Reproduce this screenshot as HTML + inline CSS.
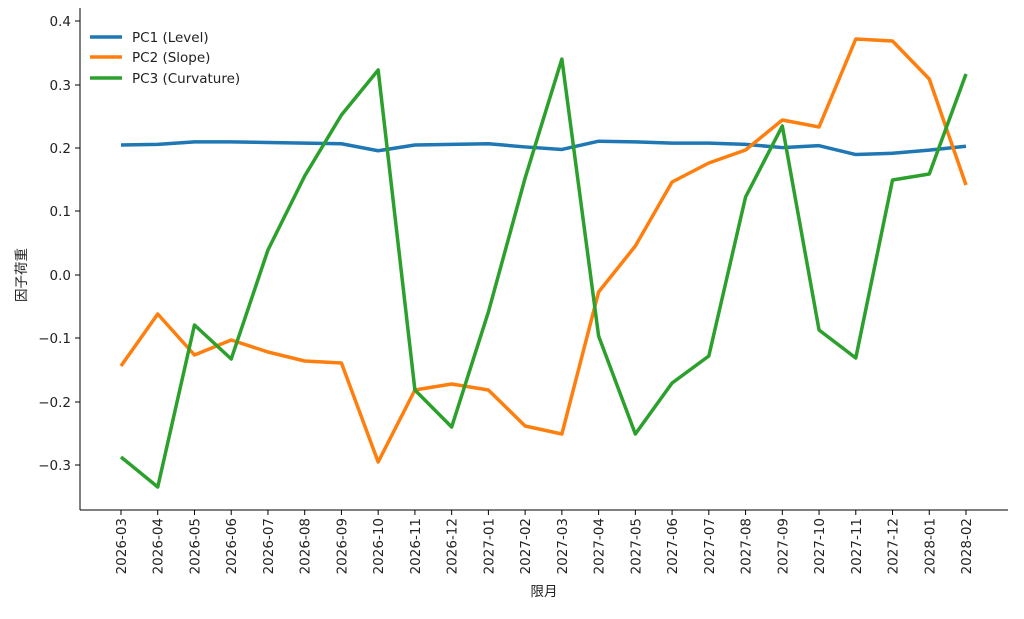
<!DOCTYPE html>
<html><head><meta charset="utf-8"><style>
body{margin:0;background:#fff;}
svg text{font-family:"DejaVu Sans","Liberation Sans","Noto Sans CJK JP",sans-serif;font-size:13.5px;fill:#222;}
</style></head><body>
<svg width="1024" height="614" xmlns="http://www.w3.org/2000/svg">
<g stroke="#000" stroke-width="1">
<line x1="80" y1="8" x2="80" y2="510"/>
<line x1="80" y1="510" x2="1008" y2="510"/>
</g>
<g id="yt" stroke="#000">
<line x1="75" x2="80" y1="21" y2="21"/><line x1="75" x2="80" y1="85" y2="85"/><line x1="75" x2="80" y1="148" y2="148"/><line x1="75" x2="80" y1="211" y2="211"/><line x1="75" x2="80" y1="275" y2="275"/><line x1="75" x2="80" y1="338" y2="338"/><line x1="75" x2="80" y1="402" y2="402"/><line x1="75" x2="80" y1="465" y2="465"/>
</g>
<g text-anchor="end">
<text x="71" y="26">0.4</text><text x="71" y="90">0.3</text><text x="71" y="153">0.2</text><text x="71" y="216">0.1</text><text x="71" y="280">0.0</text><text x="71" y="343">−0.1</text><text x="71" y="407">−0.2</text><text x="71" y="470">−0.3</text>
</g>
<g id="xt"></g>
<text x="26" y="275" text-anchor="middle" transform="rotate(-90 26 275)">因子荷重</text>
<text x="544" y="596" text-anchor="middle">限月</text>
<polyline id="p1" fill="none" stroke="#1f77b4" stroke-width="3.5" stroke-linejoin="round"/>
<polyline id="p2" fill="none" stroke="#ff7f0e" stroke-width="3.5" stroke-linejoin="round"/>
<polyline id="p3" fill="none" stroke="#2ca02c" stroke-width="3.5" stroke-linejoin="round"/>
<line x1="90" x2="122" y1="37" y2="37" stroke="#1f77b4" stroke-width="3.5"/>
<line x1="90" x2="122" y1="57" y2="57" stroke="#ff7f0e" stroke-width="3.5"/>
<line x1="90" x2="122" y1="78" y2="78" stroke="#2ca02c" stroke-width="3.5"/>
<text x="132" y="42">PC1 (Level)</text>
<text x="132" y="62">PC2 (Slope)</text>
<text x="132" y="83">PC3 (Curvature)</text>
</svg>
<script>
const labels=["2026-03","2026-04","2026-05","2026-06","2026-07","2026-08","2026-09","2026-10","2026-11","2026-12","2027-01","2027-02","2027-03","2027-04","2027-05","2027-06","2027-07","2027-08","2027-09","2027-10","2027-11","2027-12","2028-01","2028-02"];
const pc1=[0.205,0.206,0.21,0.21,0.209,0.208,0.207,0.196,0.205,0.206,0.207,0.202,0.198,0.211,0.21,0.208,0.208,0.206,0.201,0.204,0.19,0.192,0.197,0.203];
const pc2=[366,314,355,340,352,361,363,462,390,384,390,426,434,292,246,182,163,150,120,127,39,41,79,185];
const pc3=[457,487,325,359,250,176,115,70,390,427,312,178,59,336,434,383,356,197,126,330,358,180,174,74];
const X=i=>121+i*(845/23);
const ns="http://www.w3.org/2000/svg";
const xt=document.getElementById("xt");
labels.forEach((l,i)=>{const x=X(i);
const t=document.createElementNS(ns,"line");t.setAttribute("x1",x);t.setAttribute("x2",x);t.setAttribute("y1",510);t.setAttribute("y2",515);t.setAttribute("stroke","#000");xt.appendChild(t);
const s=document.createElementNS(ns,"text");s.setAttribute("x",x+5);s.setAttribute("y",518);s.setAttribute("text-anchor","end");s.setAttribute("transform",`rotate(-90 ${x+5} 518)`);s.textContent=l;xt.appendChild(s);});
document.getElementById("p1").setAttribute("points",pc1.map((v,i)=>X(i)+","+(275-v*634)).join(" "));
document.getElementById("p2").setAttribute("points",pc2.map((v,i)=>X(i)+","+v).join(" "));
document.getElementById("p3").setAttribute("points",pc3.map((v,i)=>X(i)+","+v).join(" "));
</script>
</body></html>
